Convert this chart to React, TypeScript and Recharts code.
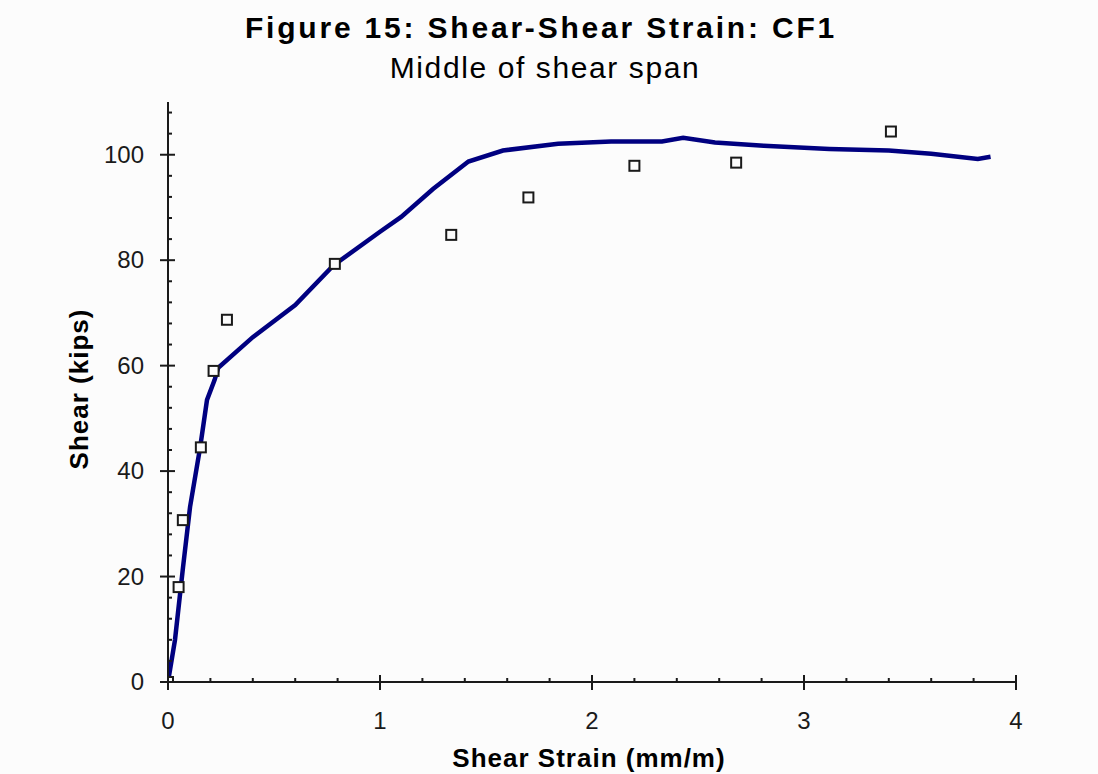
import {
  ComposedChart,
  Line,
  Scatter,
  XAxis,
  YAxis,
} from "recharts";

// analysis curve (shear strain mm/m vs shear kips)
const curveStrain = [
  0, 0.033, 0.071, 0.104, 0.152, 0.184, 0.22, 0.237, 0.4, 0.6, 0.78, 1.0, 1.1,
  1.25, 1.417, 1.58, 1.84, 2.09, 2.33, 2.43, 2.58, 2.81, 3.12, 3.4, 3.6, 3.82,
  3.88,
];
const curveShear = [
  0, 8, 21.8, 33.2, 44.6, 53.5, 57.3, 59.6, 65.4, 71.5, 79, 85.4, 88.2, 93.5,
  98.7, 100.8, 102.1, 102.5, 102.5, 103.2, 102.3, 101.7, 101.1, 100.8, 100.2,
  99.2, 99.6,
];

// test measurements
const testStrain = [
  0, 0.05, 0.07, 0.155, 0.215, 0.278, 0.787, 1.336, 1.7, 2.2, 2.68, 3.41,
];
const testShear = [
  0, 18, 30.7, 44.5, 59, 68.7, 79.3, 84.8, 91.9, 97.9, 98.5, 104.4,
];

const xTicks = [
  0, 0.2, 0.4, 0.6, 0.8, 1, 1.2, 1.4, 1.6, 1.8, 2, 2.2, 2.4, 2.6, 2.8, 3, 3.2,
  3.4, 3.6, 3.8, 4,
];
const xMajorTicks = [0, 1, 2, 3, 4];
const yTicks = [
  0, 4, 8, 12, 16, 20, 24, 28, 32, 36, 40, 44, 48, 52, 56, 60, 64, 68, 72, 76,
  80, 84, 88, 92, 96, 100, 104, 108,
];
const yMajorTicks = [0, 20, 40, 60, 80, 100];

const curveData = curveStrain.map((x, i) => ({ x, y: curveShear[i] }));
const testData = testStrain.map((x, i) => ({ x, y: testShear[i] }));

const FONT = "'Liberation Sans', Arial, sans-serif";
const INK = "#1a1a1a";

const XTick = (props: any) => {
  const { x, y, payload } = props;
  const major = xMajorTicks.includes(payload.value);
  return (
    <g>
      {major ? (
        <line x1={x} x2={x} y1={y - 7} y2={y + 8} stroke={INK} strokeWidth={2} />
      ) : (
        <line x1={x} x2={x} y1={y - 4} y2={y} stroke={INK} strokeWidth={2} />
      )}
      {major && (
        <text x={x} y={y + 47} textAnchor="middle" fontSize={24} fontFamily={FONT} fill={INK}>
          {payload.value}
        </text>
      )}
    </g>
  );
};

const YTick = (props: any) => {
  const { x, y, payload } = props;
  const major = yMajorTicks.includes(payload.value);
  return (
    <g>
      {major ? (
        <line x1={x - 8} x2={x + 7} y1={y} y2={y} stroke={INK} strokeWidth={2} />
      ) : (
        <line x1={x} x2={x + 4} y1={y} y2={y} stroke={INK} strokeWidth={2} />
      )}
      {major && (
        <text x={x - 24} y={y + 8} textAnchor="end" fontSize={24} fontFamily={FONT} fill={INK}>
          {payload.value}
        </text>
      )}
    </g>
  );
};

const SquareMarker = (props: any) => {
  const { cx, cy } = props;
  return (
    <rect
      x={cx - 5}
      y={cy - 5}
      width={10}
      height={10}
      fill="#fcfcfc"
      stroke={INK}
      strokeWidth={2}
    />
  );
};

export default function App() {
  return (
    <div
      style={{
        position: "absolute",
        left: 0,
        top: 0,
        width: 1098,
        height: 774,
        background: "#fcfcfc",
        overflow: "hidden",
      }}
    >
      <ComposedChart
        width={1098}
        height={774}
        margin={{ top: 102, right: 82, bottom: 0, left: 0 }}
      >
        <XAxis
          dataKey="x"
          type="number"
          domain={[0, 4]}
          ticks={xTicks}
          interval={0}
          tickSize={0}
          tickMargin={0}
          height={92}
          axisLine={{ stroke: INK, strokeWidth: 2 }}
          tickLine={false}
          tick={<XTick />}
          allowDataOverflow
        />
        <YAxis
          dataKey="y"
          type="number"
          domain={[0, 110]}
          ticks={yTicks}
          interval={0}
          tickSize={0}
          tickMargin={0}
          width={168}
          axisLine={{ stroke: INK, strokeWidth: 2 }}
          tickLine={false}
          tick={<YTick />}
          allowDataOverflow
        />
        <Line
          data={curveData}
          dataKey="y"
          type="linear"
          stroke="#000080"
          strokeWidth={4.5}
          dot={false}
          activeDot={false}
          isAnimationActive={false}
        />
        <Scatter
          data={testData}
          dataKey="y"
          shape={<SquareMarker />}
          isAnimationActive={false}
        />
      </ComposedChart>
      <svg
        width={1098}
        height={774}
        style={{ position: "absolute", left: 0, top: 0, pointerEvents: "none" }}
      >
        <text x={541} y={38} textAnchor="middle" fontSize={30} fontWeight="bold" fontFamily={FONT} letterSpacing={2.8} fill="#000">
          Figure 15: Shear-Shear Strain: CF1
        </text>
        <text x={545} y={78} textAnchor="middle" fontSize={30} fontFamily={FONT} letterSpacing={1.6} fill="#000">
          Middle of shear span
        </text>
        <text
          transform="translate(88,389) rotate(-90)"
          textAnchor="middle"
          fontSize={26}
          fontWeight="bold"
          fontFamily={FONT}
          letterSpacing={1}
          fill="#000"
        >
          Shear (kips)
        </text>
        <text x={589} y={767} textAnchor="middle" fontSize={26} fontWeight="bold" fontFamily={FONT} letterSpacing={1} fill="#000">
          Shear Strain (mm/m)
        </text>
      </svg>
    </div>
  );
}
